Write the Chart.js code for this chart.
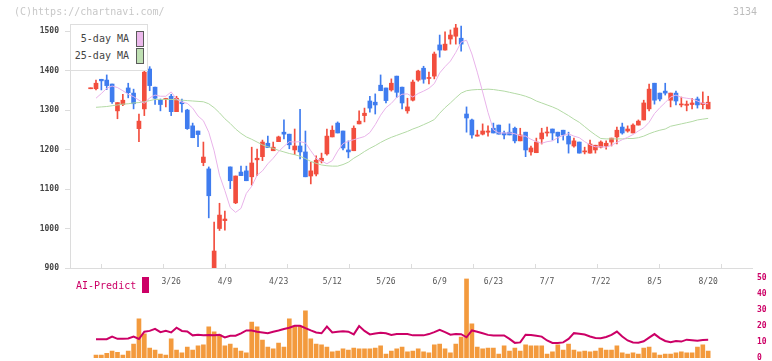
<!DOCTYPE html>
<html><head><meta charset="utf-8">
<script src="https://cdn.jsdelivr.net/npm/chart.js@4/dist/chart.umd.min.js"></script>
<style>
html,body{margin:0;padding:0;width:772px;height:361px;overflow:hidden;background:#fff;font-family:"DejaVu Sans Mono",monospace;}
canvas{position:absolute;left:0;}
#c1{top:0;}
#c2{top:262px;}
.t{position:absolute;white-space:nowrap;font-size:10px;line-height:12px;}
.sw{position:absolute;box-sizing:border-box;border:1px solid #5a5a5a;}
</style></head><body>
<canvas id="c1" width="772" height="293"></canvas>
<canvas id="c2" width="772" height="110"></canvas>
<div class="t" style="left:14px;top:6px;color:#c8c8c8">(C)https://chartnavi.com/</div>
<div class="t" style="left:733px;top:6px;color:#bdbdbd">3134</div>
<div style="position:absolute;left:70px;top:24px;width:78px;height:47px;box-sizing:border-box;border:1px solid #dedede;background:#fff"></div>
<div class="t" style="left:70px;width:59px;text-align:right;top:33px;color:#444">5-day MA</div>
<div class="t" style="left:70px;width:59px;text-align:right;top:50px;color:#444">25-day MA</div>
<div class="sw" style="left:136px;top:31px;width:8px;height:16px;background:#ecb9ec"></div>
<div class="sw" style="left:136px;top:48px;width:8px;height:16px;background:#bfe0b3"></div>
<div class="t" style="left:76px;top:280px;color:#cc0066">AI-Predict</div>
<div style="position:absolute;left:142px;top:277px;width:7px;height:16px;background:#cc0066"></div>
<script>
// ---- data ----
const xLabels = ['3/26','4/9','4/23','5/12','5/26','6/9','6/23','7/7','7/22','8/5','8/20'];
const xLabelIdx = [14,24,34,44,54,64,74,84,94,104,114];
const yTicks = [900,1000,1100,1200,1300,1400,1500];
const aiTicks = [0,10,20,30,40,50];
// first candle sits at index -1 (no volume / MA)
const firstIndex = -1;
const opens = [1354,
1354,1378,1376,1366,1298,1314,1356,1343,1253,1303,
1404,1358,1325,1327,1335,1296,1320,1300,1260,1247,
1167,1151,896,1000,1020,1156,1065,1143,1146,1131,
1174,1182,1216,1197,1220,1244,1239,1199,1209,1194,
1133,1138,1171,1189,1232,1267,1247,1199,1197,1265,
1286,1323,1320,1363,1356,1351,1386,1358,1298,1325,
1376,1406,1380,1386,1465,1452,1480,1487,1482,1290,
1275,1234,1239,1244,1254,1262,1242,1244,1254,1222,
1244,1194,1192,1227,1242,1252,1244,1249,1234,1209,
1219,1194,1191,1199,1206,1209,1219,1232,1257,1247,
1242,1262,1275,1303,1368,1343,1348,1325,1343,1313,
1312,1314,1328,1314,1303];
const closes = [1356,
1368,1374,1362,1321,1319,1325,1344,1316,1272,1396,
1362,1330,1314,1329,1296,1330,1316,1253,1230,1238,
1181,1083,943,1034,1024,1121,1133,1134,1121,1166,
1178,1219,1205,1206,1232,1239,1212,1209,1194,1131,
1146,1173,1178,1234,1249,1242,1204,1194,1254,1272,
1292,1305,1313,1349,1324,1368,1345,1318,1308,1371,
1399,1378,1381,1442,1452,1467,1490,1508,1467,1280,
1237,1237,1247,1247,1242,1239,1237,1237,1222,1237,
1199,1204,1219,1242,1244,1242,1234,1237,1214,1222,
1191,1196,1214,1211,1219,1216,1229,1249,1242,1252,
1262,1272,1318,1353,1325,1328,1343,1343,1323,1315,
1315,1318,1313,1318,1320];
const highs = [1356,
1376,1378,1389,1366,1319,1340,1368,1353,1290,1401,
1410,1358,1328,1330,1340,1335,1328,1302,1267,1247,
1219,1156,1016,1064,1044,1156,1133,1158,1158,1206,
1201,1224,1234,1219,1234,1275,1239,1252,1302,1247,
1168,1184,1191,1252,1260,1270,1247,1222,1260,1298,
1305,1335,1341,1389,1356,1379,1386,1358,1330,1376,
1401,1411,1396,1447,1490,1498,1503,1518,1513,1308,
1277,1249,1265,1260,1267,1262,1247,1265,1257,1254,
1244,1209,1229,1254,1257,1252,1244,1249,1244,1229,
1219,1206,1224,1211,1222,1222,1229,1257,1267,1260,
1265,1275,1325,1366,1368,1343,1368,1343,1348,1333,
1323,1330,1333,1346,1335];
const lows = [1354,
1351,1351,1352,1317,1278,1311,1331,1303,1220,1286,
1349,1314,1298,1308,1286,1296,1295,1251,1230,1207,
1159,1027,892,995,996,1101,1063,1134,1121,1110,
1134,1172,1205,1197,1220,1227,1202,1187,1176,1131,
1113,1133,1166,1186,1232,1242,1199,1179,1197,1265,
1270,1295,1290,1349,1318,1348,1332,1303,1292,1323,
1373,1368,1366,1379,1434,1452,1467,1467,1449,1244,
1229,1234,1237,1234,1242,1239,1227,1237,1217,1222,
1182,1186,1192,1214,1234,1224,1217,1224,1191,1206,
1191,1189,1191,1191,1204,1201,1209,1214,1239,1244,
1242,1262,1275,1298,1315,1323,1338,1308,1313,1308,
1298,1303,1305,1303,1303];
const ma5 = [null,
1330,1342,1355,1361,1357,1349,1340,1334,1325,1317,
1331,1338,1335,1335,1346,1328,1320,1317,1305,1285,
1273,1244,1197,1135,1096,1053,1041,1051,1089,1107,
1135,1146,1164,1178,1195,1208,1220,1219,1220,1217,
1197,1178,1171,1164,1172,1196,1215,1221,1225,1229,
1233,1243,1263,1287,1306,1317,1332,1340,1341,1333,
1342,1348,1355,1367,1394,1410,1424,1446,1472,1477,
1442,1396,1346,1294,1250,1242,1242,1242,1240,1235,
1234,1226,1220,1216,1220,1222,1230,1236,1240,1234,
1230,1220,1212,1207,1207,1206,1211,1218,1225,1231,
1238,1247,1255,1269,1291,1306,1319,1333,1338,1332,
1330,1328,1323,1317,1316];
const ma25 = [null,
1307,1308,1309,1311,1313,1315,1316,1318,1319,1321,
1324,1327,1327,1327,1327,1326,1325,1324,1323,1322,
1321,1316,1306,1293,1278,1266,1252,1241,1232,1226,
1219,1212,1207,1203,1198,1194,1190,1187,1183,1177,
1170,1165,1161,1159,1158,1158,1162,1168,1178,1186,
1195,1203,1210,1218,1225,1231,1236,1241,1246,1252,
1257,1263,1269,1276,1292,1306,1318,1331,1343,1349,
1351,1352,1352,1353,1352,1350,1348,1345,1342,1339,
1335,1330,1323,1318,1313,1308,1302,1294,1286,1277,
1269,1258,1247,1237,1228,1227,1227,1227,1227,1228,
1228,1230,1234,1240,1245,1249,1252,1259,1262,1265,
1268,1271,1275,1277,1279];
const volume = [null,
1.9,1.9,3.0,4.4,3.6,1.9,4.4,8.8,24.5,15.1,
6.3,5.0,2.5,1.9,12.0,5.0,3.2,6.9,5.0,7.6,
8.2,19.5,16.4,14.5,7.6,8.8,6.3,4.4,3.2,22.6,
19.5,11.3,6.9,5.7,9.4,6.9,24.5,20.1,20.1,29.6,
12.0,8.8,8.2,6.9,3.8,4.4,5.7,5.0,6.3,5.7,
5.7,5.7,6.3,7.6,2.5,4.4,5.7,6.9,3.8,4.4,
5.7,3.8,3.2,8.2,8.8,5.7,3.2,8.8,13.2,49.7,
21.4,6.9,5.7,6.3,6.3,2.5,7.6,4.4,6.3,4.4,
8.2,7.6,7.6,7.6,2.5,3.8,8.2,5.0,8.8,5.0,
3.8,4.4,3.8,4.4,6.3,5.0,5.0,7.6,3.2,2.5,
3.2,2.5,6.3,6.9,3.2,1.9,2.5,2.5,3.2,3.8,
3.2,3.2,6.9,8.2,4.4];
const aiPredict = [null,
11.8,11.8,11.8,13.4,12.0,12.0,12.2,13.4,11.9,16.5,
17.0,18.3,16.2,17.0,16.0,19.0,17.0,16.7,14.2,14.6,
14.2,14.5,14.2,14.5,12.9,14.0,14.0,15.5,17.3,17.2,
16.5,16.0,15.5,16.5,17.2,18.2,19.0,20.2,20.2,18.7,
17.3,16.0,15.5,19.7,16.0,16.4,16.8,16.5,14.8,20.0,
17.0,14.8,15.4,15.8,15.5,14.5,15.0,15.0,15.0,14.2,
14.2,14.2,15.0,16.2,17.6,16.2,14.6,15.0,14.9,13.0,
17.3,16.5,15.5,14.5,14.1,14.1,14.1,12.0,9.5,9.8,
14.6,14.5,14.0,13.4,11.0,9.4,9.4,9.8,12.0,15.6,
15.2,14.7,13.5,12.6,12.4,13.2,14.5,16.6,13.5,11.0,
9.7,9.6,10.5,12.8,15.0,12.5,10.7,9.9,10.7,10.3,
11.5,11.2,10.8,11.3,11.4];

// ---- build ----
const XMIN = -4.84, XMAX = 122.16;
const UP = '#f24e3e', DOWN = '#3f7cef';
const xs = opens.map((_, k) => firstIndex + k);
const candleColor = ctx => closes[ctx.dataIndex] >= opens[ctx.dataIndex] ? UP : DOWN;
const bodies = xs.map((x, k) => ({x, y: [opens[k], closes[k]]}));
const wicks = xs.map((x, k) => ({x, y: [lows[k], highs[k]]}));
const pts = arr => xs.map((x, k) => ({x, y: arr[k]})).filter(p => p.y !== null);
const monoFont = (size, weight) => ({family: '"DejaVu Sans Mono", monospace', size, weight: weight || 'normal'});

new Chart(document.getElementById('c1'), {
  type: 'bar',
  data: {datasets: [
    {type: 'line', label: '5-day MA', data: pts(ma5), borderColor: '#e9b3ea', borderWidth: 1, pointRadius: 0, tension: 0, order: 0},
    {type: 'line', label: '25-day MA', data: pts(ma25), borderColor: '#b3daa5', borderWidth: 1, pointRadius: 0, tension: 0, order: 0},
    {label: 'body', data: bodies, backgroundColor: candleColor, barThickness: 4, grouped: false, minBarLength: 1, order: 1},
    {label: 'wick', data: wicks, backgroundColor: candleColor, barThickness: 1, grouped: false, order: 2}
  ]},
  options: {
    responsive: false, animation: false, events: [],
    plugins: {legend: {display: false}, tooltip: {enabled: false}},
    layout: {padding: {left: 0, right: 20, top: 24, bottom: 0}},
    scales: {
      x: {type: 'linear', offset: false, min: XMIN, max: XMAX, position: 'bottom', weight: 1,
        grid: {display: false, drawTicks: false}, border: {display: false},
        afterBuildTicks: s => { s.ticks = xLabelIdx.map(v => ({value: v})); },
        ticks: {autoSkip: false, maxRotation: 0, padding: 9, color: '#555', font: monoFont(8),
          callback: (v, i) => xLabels[i]},
        afterFit: s => { s.height = 25; }},
      x2: {type: 'linear', offset: false, min: 0, max: 11, position: 'bottom', weight: 0,
        ticks: {display: false, stepSize: 1},
        grid: {drawOnChartArea: false, drawTicks: true, tickLength: -4, color: '#dcdcdc'},
        border: {display: true, color: '#dcdcdc'},
        afterFit: s => { s.height = 0; }},
      y: {type: 'linear', min: 900, max: 1518,
        afterBuildTicks: s => { s.ticks = yTicks.map(v => ({value: v})); },
        grid: {drawOnChartArea: false, tickLength: 5, color: '#dcdcdc'},
        border: {color: '#dcdcdc'},
        ticks: {padding: 6, color: '#444', font: monoFont(8, 'bold'), callback: v => String(v)},
        afterFit: s => { s.width = 70; }}
    }
  }
});

new Chart(document.getElementById('c2'), {
  type: 'bar',
  data: {datasets: [
    {type: 'line', label: 'AI-Predict', data: pts(aiPredict), borderColor: '#cc0066', borderWidth: 2, pointRadius: 0, tension: 0, order: 0},
    {label: 'volume', data: pts(volume), backgroundColor: '#f39a3d', barThickness: 4, grouped: false, order: 1}
  ]},
  options: {
    responsive: false, animation: false, events: [],
    plugins: {legend: {display: false}, tooltip: {enabled: false}},
    layout: {padding: {left: 70, right: 0, top: 16.3, bottom: 14}},
    scales: {
      x: {type: 'linear', offset: false, min: XMIN, max: XMAX, display: false},
      y: {type: 'linear', position: 'right', min: 0, max: 50,
        afterBuildTicks: s => { s.ticks = aiTicks.map(v => ({value: v})); },
        ticks: {padding: 5, color: '#cc0066', font: monoFont(8, 'bold'), callback: v => String(v)},
        grid: {display: false, drawTicks: false}, border: {display: false},
        afterFit: s => { s.width = 20; }}
    }
  }
});
</script>
</body></html>
